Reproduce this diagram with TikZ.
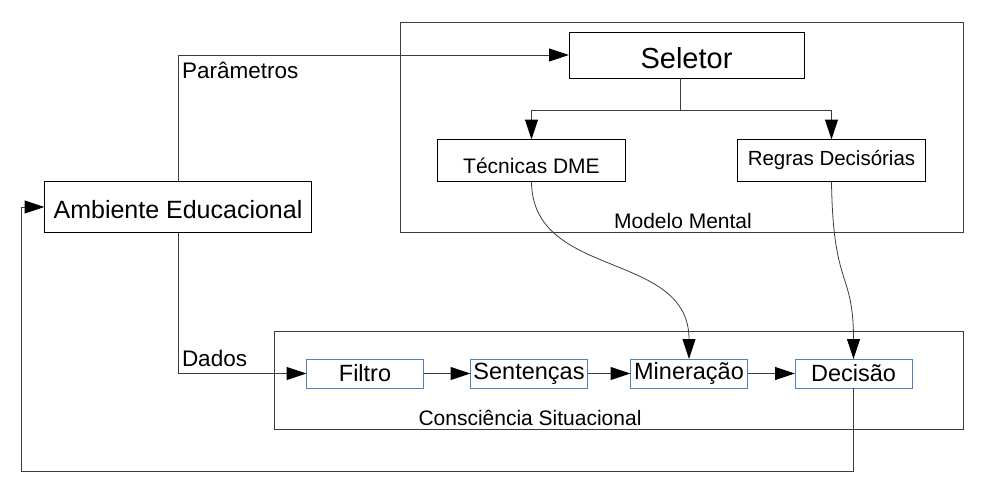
\documentclass[tikz,border=0pt]{standalone}
\usepackage{fontspec}
\setmainfont{Liberation Sans}
\usetikzlibrary{arrows.meta}
\definecolor{boxblue}{RGB}{79,129,189}
\definecolor{linegray}{RGB}{60,60,60}
\begin{document}
\begin{tikzpicture}[x=1pt,y=-1pt,
  every node/.style={inner sep=0pt,outer sep=0pt},
  arr/.style={draw=linegray,line width=1pt,-{Triangle[length=20pt,width=13pt,black]}},
  mainbox/.style={draw=black,line width=1pt,fill=white},
  bluebox/.style={draw=boxblue,line width=1pt,fill=white,minimum width=117pt,minimum height=29pt,font=\fontsize{23.5}{27}\selectfont},
  grpbox/.style={draw=linegray,line width=1pt},
  lbl/.style={font=\fontsize{21}{25}\selectfont}]
\useasboundingbox (0,0) rectangle (983,490);
% group boxes
\draw[grpbox] (400,22.5) rectangle (963,232.5);
\draw[grpbox] (274,331.5) rectangle (963,429.5);
\node[lbl] (mm) at (683,221) {Modelo Mental};
\node[lbl] (cs) at (530,418) {Consciência Situacional};
% nodes
\node[mainbox,minimum width=235pt,minimum height=46pt,font=\fontsize{29}{33}\selectfont] (sel) at (686.5,55) {\raisebox{-3pt}[\height][\depth]{Seletor}};
\node[mainbox,minimum width=188pt,minimum height=42pt,font=\fontsize{21}{25}\selectfont] (tec) at (531.5,160.5) {\raisebox{-5pt}[\height][\depth]{Técnicas DME}};
\node[mainbox,minimum width=188pt,minimum height=42pt,font=\fontsize{20.5}{25}\selectfont] (reg) at (831.5,160.5) {Regras Decisórias};
\node[mainbox,minimum width=267pt,minimum height=51pt,font=\fontsize{25}{29}\selectfont] (amb) at (178,207) {\raisebox{-3pt}[\height][\depth]{Ambiente Educacional}};
\node[bluebox] (fil) at (365,373.5) {Filtro};
\node[bluebox] (sen) at (529,373.5) {Sentenças};
\node[bluebox] (min) at (689,373.5) {Mineração};
\node[bluebox] (dec) at (853.5,373.5) {Decisão};
% labels on connectors
\node[anchor=west,font=\fontsize{22.5}{26}\selectfont] (par) at (182,70) {Parâmetros};
\node[anchor=west,font=\fontsize{22.5}{26}\selectfont] (dad) at (182,358) {Dados};
% connectors
\coordinate (br) at (680,110);
\coordinate (fb) at (21,471);
\draw[arr] (amb.north) |- (sel.west);
\draw[arr] (amb.south) |- (fil.west);
\draw[draw=linegray,line width=1pt] (sel.south -| br) -- (br);
\draw[arr] (br) -| (tec.north);
\draw[arr] (br) -| (reg.north);
\draw[arr,line width=0.8pt] (tec.south) .. controls (532,280) and (689,250) .. (min.north);
\draw[arr,line width=0.8pt] (reg.south) .. controls (833,290) and (853.5,270) .. (dec.north);
\draw[arr] (fil.east) -- (sen.west);
\draw[arr] (sen.east) -- (min.west);
\draw[arr] (min.east) -- (dec.west);
\draw[arr] (dec.south) |- (fb) |- (amb.west);
\end{tikzpicture}
\end{document}
